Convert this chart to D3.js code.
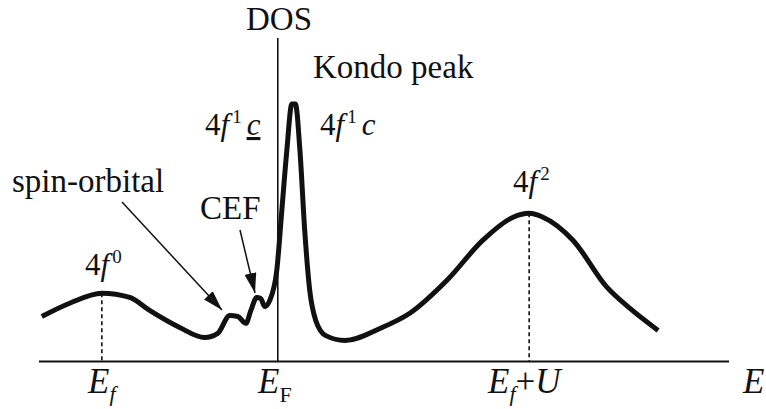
<!DOCTYPE html>
<html>
<head>
<meta charset="utf-8">
<script src="https://cdn.jsdelivr.net/npm/d3@7"></script>
<style>
  body { margin: 0; background: #fff; }
</style>
</head>
<body>
<svg id="chart" width="766" height="409"></svg>
<script>
// --- data: schematic DOS curve (energy in arbitrary units, E_F = 0) ---
const energy = [-9.39, -8.28, -7.0, -5.89, -5.10, -3.90, -2.91, -2.39, -1.91, -1.59, -1.27, -1.07,
                -0.84, -0.68, -0.52, -0.32, -0.04, 0.16, 0.36, 0.56, 0.70, 0.88, 1.07, 1.27,
                1.51, 1.91, 2.67, 4.06, 5.25, 6.73, 8.16, 9.36, 10.0, 10.55, 11.74, 13.10, 14.01, 15.13];
const dos    = [1.39, 1.80, 2.11, 1.98, 1.58, 1.05, 0.74, 0.87, 1.42, 1.39, 1.18, 1.58,
                1.98, 1.95, 1.70, 1.89, 2.82, 4.67, 6.53, 7.96, 7.96, 6.53, 4.06, 2.20,
                1.27, 0.80, 0.65, 1.02, 1.49, 2.51, 3.75, 4.46, 4.58, 4.46, 3.75, 2.29, 1.64, 0.96];

// dashed marker positions: E_f and E_f + U
const levelE = [-7.0, 10.0];

const FONT = "Liberation Serif";

const svg = d3.select("#chart");

// --- scales ---
const x = d3.scaleLinear().domain([-9.5, 17.95]).range([39, 729]);
const y = d3.scaleLinear().domain([0, 10]).range([361.5, 38]);

const pts = energy.map((e, i) => [e, dos[i]]);

// --- axes (plain lines, no ticks) ---
svg.append("line")
  .attr("x1", x(-9.5)).attr("x2", x(17.95))
  .attr("y1", y(0)).attr("y2", y(0))
  .attr("stroke", "#111").attr("stroke-width", 2);

svg.append("line")
  .attr("x1", x(0)).attr("x2", x(0))
  .attr("y1", y(0)).attr("y2", y(10))
  .attr("stroke", "#111").attr("stroke-width", 1.6);

// --- dashed drop lines ---
svg.selectAll("line.level")
  .data(levelE)
  .enter().append("line")
    .attr("class", "level")
    .attr("x1", d => x(d)).attr("x2", d => x(d))
    .attr("y1", d => y(dos[energy.indexOf(d)]))
    .attr("y2", y(0))
    .attr("stroke", "#111")
    .attr("stroke-width", 1.6)
    .attr("stroke-dasharray", "4,3");

// --- DOS curve ---
const line = d3.line()
  .x(d => x(d[0]))
  .y(d => y(d[1]))
  .curve(d3.curveMonotoneX);

svg.append("path")
  .datum(pts)
  .attr("d", line)
  .attr("fill", "none")
  .attr("stroke", "#111")
  .attr("stroke-width", 5)
  .attr("stroke-linejoin", "round")
  .attr("stroke-linecap", "butt");

// --- arrows ---
svg.append("defs").append("marker")
  .attr("id", "head")
  .attr("viewBox", "0 0 20 12")
  .attr("refX", 20).attr("refY", 6)
  .attr("markerWidth", 20).attr("markerHeight", 12)
  .attr("markerUnits", "userSpaceOnUse")
  .attr("orient", "auto")
  .append("path")
    .attr("d", "M0,0 L20,6 L0,12 Z")
    .attr("fill", "#111");

svg.append("line")
  .attr("x1", 122).attr("y1", 202)
  .attr("x2", 222).attr("y2", 310)
  .attr("stroke", "#111").attr("stroke-width", 1.5)
  .attr("marker-end", "url(#head)");

svg.append("line")
  .attr("x1", 240).attr("y1", 230)
  .attr("x2", 255).attr("y2", 293)
  .attr("stroke", "#111").attr("stroke-width", 1.5)
  .attr("marker-end", "url(#head)");

// --- text labels ---
function label(xp, yp, size) {
  return svg.append("text")
    .attr("x", xp).attr("y", yp)
    .attr("font-family", FONT)
    .attr("font-size", size)
    .attr("fill", "#111");
}

label(279, 30, 33).attr("text-anchor", "middle").text("DOS");
label(313, 78, 33).text("Kondo peak");
label(12, 192, 33).text("spin-orbital");
label(200, 219, 33).text("CEF");

// 4f^n labels
function fLabel(xp, yp, sup, tail, underline) {
  const t = label(xp, yp, 31);
  t.append("tspan").text("4");
  t.append("tspan").attr("font-style", "italic").text("f");
  t.append("tspan").attr("dy", -12).attr("dx", 3).attr("font-size", 19).text(sup);
  if (tail) {
    t.append("tspan").attr("dy", 12).attr("dx", 5).attr("font-style", "italic")
      .attr("text-decoration", underline ? "underline" : null).text(tail);
  }
  return t;
}
fLabel(85, 275, "0");
fLabel(513, 192, "2");
fLabel(205, 135, "1", "c", true);
fLabel(320, 135, "1", "c", false);

// energy axis labels
const eF = label(88, 393, 35);
eF.append("tspan").attr("font-style", "italic").text("E");
eF.append("tspan").attr("dy", 8).attr("font-style", "italic").attr("font-size", 22).text("f");

const eFermi = label(258, 393, 35);
eFermi.append("tspan").attr("font-style", "italic").text("E");
eFermi.append("tspan").attr("dy", 9).attr("font-size", 22).text("F");

const eU = label(488, 393, 35);
eU.append("tspan").attr("font-style", "italic").text("E");
eU.append("tspan").attr("dy", 8).attr("font-style", "italic").attr("font-size", 22).text("f");
eU.append("tspan").attr("dy", -8).text("+");
eU.append("tspan").attr("font-style", "italic").text("U");

label(743, 393, 35).attr("font-style", "italic").text("E");
</script>
</body>
</html>
